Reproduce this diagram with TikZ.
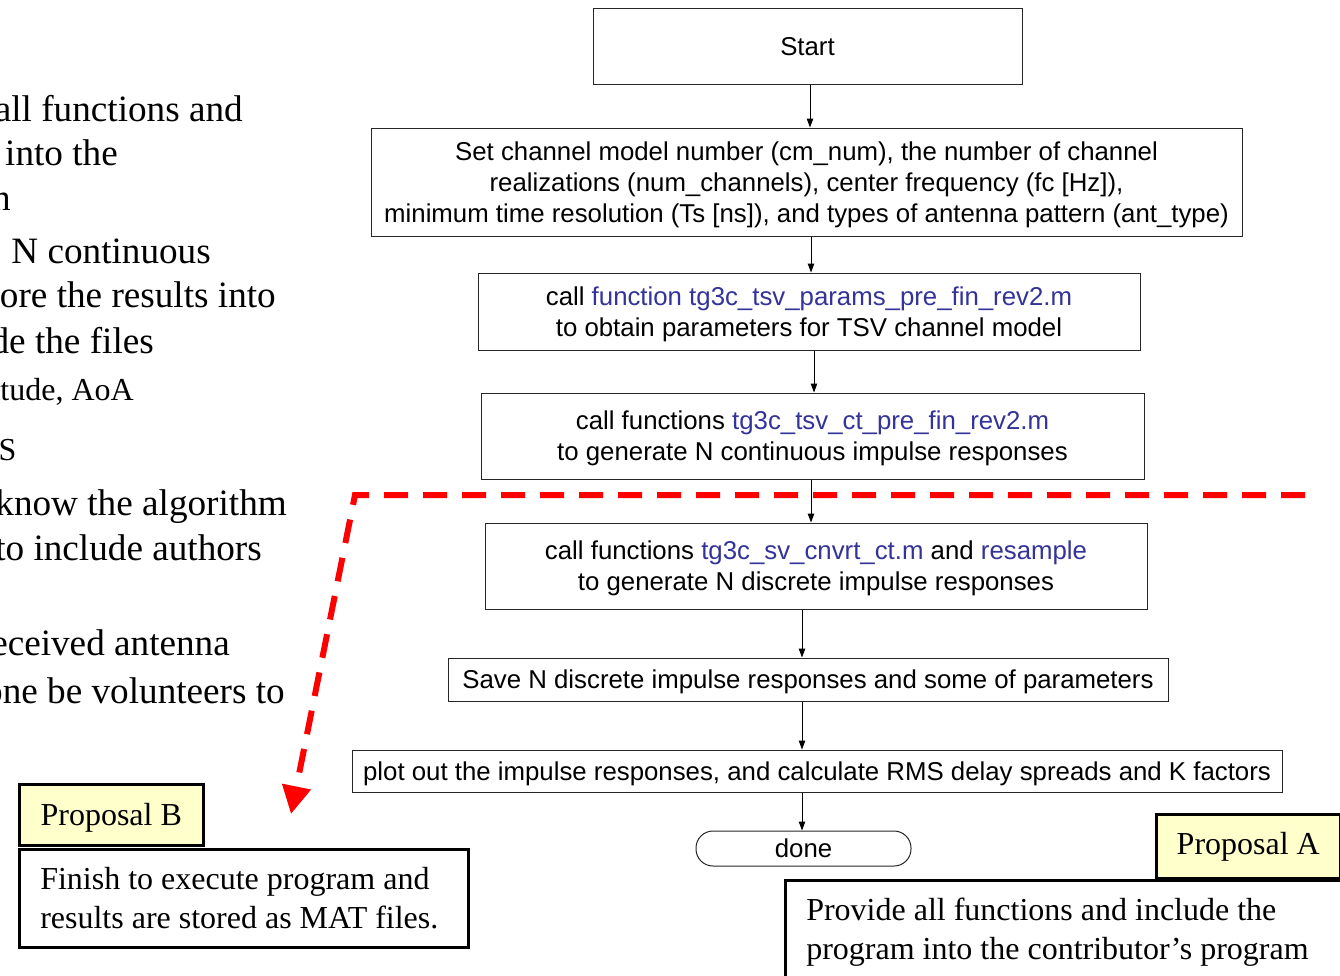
\documentclass[tikz,border=0pt]{standalone}
\usepackage{fontspec}
\setmainfont{Liberation Serif}
\newfontfamily\arial{Liberation Sans}
\usetikzlibrary{arrows.meta}
\definecolor{fnblue}{RGB}{51,51,153}
\definecolor{propyellow}{RGB}{255,255,204}
\definecolor{dashred}{RGB}{255,0,0}
% stacked lines, lowered a little without changing the box size seen by TikZ
\newcommand\ctrlines[2][3pt]{\raisebox{-#1}[\height][\depth]{\begin{tabular}{@{}c@{}}#2\end{tabular}}}
\newcommand\leftlines[1]{\raisebox{-3pt}[\height][\depth]{\begin{tabular}{@{}l@{}}#1\end{tabular}}}
\begin{document}
\begin{tikzpicture}[x=1pt,y=-1pt,
  flow/.style={draw=black!85, line width=1pt, fill=white,
    font=\arial\fontsize{25.8}{31}\selectfont, inner sep=0pt},
  arr/.style={-{Triangle[length=9pt,width=6.5pt]}, line width=1pt},
  note/.style={font=\fontsize{37.2}{45}\selectfont, anchor=base east, inner sep=0pt},
  smallnote/.style={font=\fontsize{32}{40}\selectfont, anchor=base east, inner sep=0pt},
  prop/.style={draw=black, line width=2.5pt, fill=propyellow,
    font=\fontsize{32}{39}\selectfont, inner sep=0pt, anchor=north west},
  result/.style={draw=black, line width=2.5pt, fill=white,
    font=\fontsize{32}{39}\selectfont, align=flush left, inner ysep=0pt,
    inner xsep=21pt, anchor=north west}
]
\useasboundingbox (0,0) rectangle (1340,975);
\clip (0,0) rectangle (1340,975);

% partly hidden notes on the left
\node[note] (n1) at (243,121) {all functions and};
\node[note] (n2) at (118,165) {into the};
\node[note] (n3) at (11,210) {n};
\node[note] (n4) at (211,263) {N continuous};
\node[note] (n5) at (276,307) {ore the results into};
\node[note] (n6) at (154,353) {de the files};
\node[smallnote] (n7) at (134,400) {tude, AoA};
\node[smallnote] (n8) at (16.5,460) {S};
\node[note] (n9) at (287,515) {know the algorithm};
\node[note] (n10) at (262,560) {to include authors};
\node[note] (n11) at (230,655) {eceived antenna};
\node[note] (n12) at (285,703) {one be volunteers to};

% flowchart
\node[flow, minimum width=429pt, minimum height=76pt] (start) at (807.5,46) {\ctrlines{Start}};
\node[flow, minimum width=871pt, minimum height=108pt] (set) at (806.5,182)
  {\ctrlines{Set channel model number (cm\_num), the number of channel\\
   realizations (num\_channels), center frequency (fc [Hz]),\\
   minimum time resolution (Ts [ns]), and types of antenna pattern (ant\_type)}};
\node[flow, minimum width=662pt, minimum height=77pt] (par) at (809,311.5)
  {\ctrlines{call {\color{fnblue}function tg3c\_tsv\_params\_pre\_fin\_rev2.m}\\
   to obtain parameters for TSV channel model}};
\node[flow, minimum width=663pt, minimum height=86pt] (ct) at (812.5,436)
  {\ctrlines{call functions {\color{fnblue}tg3c\_tsv\_ct\_pre\_fin\_rev2.m}\\
   to generate N continuous impulse responses}};
\node[flow, minimum width=662pt, minimum height=86pt] (dt) at (816,566)
  {\ctrlines{call functions {\color{fnblue}tg3c\_sv\_cnvrt\_ct.m} and {\color{fnblue}resample}\\
   to generate N discrete impulse responses}};
\node[flow, minimum width=720pt, minimum height=43pt] (save) at (808,679.5)
  {\ctrlines{Save N discrete impulse responses and some of parameters}};
\node[flow, minimum width=930pt, minimum height=42pt] (plot) at (817,771)
  {\ctrlines{plot out the impulse responses, and calculate RMS delay spreads and K factors}};
\node[flow, minimum width=215pt, minimum height=35pt, rounded corners=17pt] (done) at (803.5,848.5)
  {\ctrlines{done}};

\coordinate (xa) at (810,0);
\coordinate (xb) at (811,0);
\coordinate (xc) at (814,0);
\coordinate (xd) at (802,0);
\draw[arr] (start.south -| xa) -- (set.north -| xa);
\draw[arr] (set.south -| xb) -- (par.north -| xb);
\draw[arr] (par.south -| xc) -- (ct.north -| xc);
\draw[arr] (ct.south -| xb) -- (dt.north -| xb);
\draw[arr] (dt.south -| xd) -- (save.north -| xd);
\draw[arr] (save.south -| xd) -- (plot.north -| xd);
\draw[arr] (plot.south -| xd) -- (done.north -| xd);

% red dashed hand-off line
\coordinate (r0) at (1305,495);
\coordinate (r1) at (355,495);
\coordinate (r2) at (291,814);
\draw[dashred, line width=6pt, dash pattern=on 24pt off 15pt, line join=miter,
  -{Triangle[length=28pt,width=28pt]}] (r0) -- (r1) -- (r2);

% proposals
\node[prop, minimum width=184pt, minimum height=61pt] (propB) at (18,783)
  {\ctrlines{Proposal B}};
\node[result, minimum height=98pt, text width=407pt] (resB) at (18,848)
  {\leftlines{Finish to execute program and\\results are stored as MAT files.}};
\node[prop, minimum width=184pt, minimum height=64pt] (propA) at (1155,813)
  {\ctrlines[0pt]{Proposal A}};
\node[result, minimum height=98pt, text width=560pt] (resA) at (784,879)
  {\leftlines{Provide all functions and include the\\program into the contributor’s program}};
\end{tikzpicture}
\end{document}
